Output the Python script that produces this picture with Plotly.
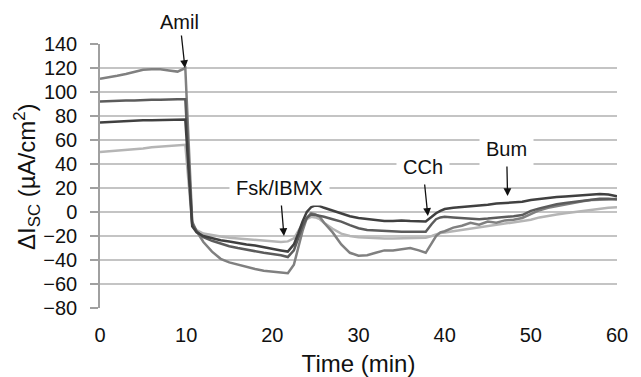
import plotly.graph_objects as go

time_min = [0, 1, 2, 3, 4, 5, 6, 7, 8, 9, 9.9, 10.7, 11.2, 12, 13, 14, 15, 16, 17, 18, 19, 20, 21, 21.8,
            22.5, 23, 23.5, 24, 24.5, 25, 25.5, 26, 27, 28, 29, 30, 31, 32, 33, 34, 35, 36, 37, 37.8,
            38.5, 39, 39.5, 40, 41, 42, 43, 44, 45, 46, 47, 48, 49, 50, 51, 52, 53, 54, 55, 56, 57, 58, 59, 60]

trace_light = [50, 50.5, 51, 51.5, 52, 53, 54, 54.5, 55, 55.5, 56, -10, -15, -18, -19.5, -20.5, -21.5, -22, -22.5, -23, -24, -24.5, -25, -24.5,
               -22, -16, -10, -6, -4, -4.5, -6, -9, -14, -18, -20, -21, -21.5, -22, -22, -22, -22, -22, -21.5, -21.5,
               -20, -18.5, -17.5, -17, -16, -15, -14, -13, -12, -11, -10, -9, -8, -6.5, -4.5, -3, -2, -1, 0, 1, 2, 3, 3.5, 4]

trace_medium = [111, 112, 113.5, 115, 117, 118.5, 119, 119, 118, 117, 120, -8, -16, -25, -33, -39, -42, -44, -46, -47.5, -49, -50, -50.5, -51,
                -44, -30, -16, -5, -1, -2, -4, -9, -17, -27, -34, -36.5, -36, -34, -32, -32, -31, -30, -32, -34,
                -26, -20, -17, -16, -13, -11.5, -9, -10.5, -8, -9, -7, -6.5, -5, -2, 1.5, 3.5, 5, 6.5, 8, 9, 10, 10, 10.5, 11]

trace_dark = [92, 92.5, 92.5, 93, 93, 93.5, 93.5, 93.5, 94, 94, 94, -10, -16, -21, -24, -26.5, -28.5, -30, -31.5, -32.5, -34, -35, -36, -37.5,
              -32, -22, -12, -5, -2, -2.5, -3, -4, -6, -8, -11, -13.5, -15, -15.5, -16, -16, -16.5, -16.5, -16.5, -16.5,
              -10, -6, -4.5, -4, -4.5, -5, -5.5, -6, -5.5, -5, -4.5, -3.5, -2.5, 1, 3, 5, 6.5, 7.5, 8.5, 9.5, 10.5, 11, 11, 10.5]

trace_darkest = [74.5, 75, 75.5, 76, 76, 76.5, 76.5, 76.5, 77, 77, 77, -12, -17, -20, -22, -23.5, -24.5, -26, -27, -28, -29.5, -30.5, -32, -33,
                 -27, -18, -8, 0, 4, 5.5, 5, 3.5, 1, -1.5, -3.5, -5, -6, -7, -7.5, -7.5, -7, -7.5, -8, -8,
                 -4, -1, 1, 2.5, 3.5, 4, 4.5, 5.5, 6, 7, 7.5, 8, 8.5, 10, 11, 12, 12.5, 13, 13.5, 14.5, 15, 15, 14.5, 13]

series = [
    (trace_light, "#b5b5b5"),
    (trace_medium, "#808080"),
    (trace_dark, "#5c5c5c"),
    (trace_darkest, "#404040"),
]

events = ["Amil", "Fsk/IBMX", "CCh", "Bum"]
event_times = [9.86, 21.35, 38.05, 47.3]
event_tips = [120, -20, -3.3, 13.3]
label_dx = [-5, -4, -5, -1]
label_dy = [-46, -48, -49, -47]

FONT = "Liberation Sans, Arial, sans-serif"

fig = go.Figure()
for vals, col in series:
    fig.add_trace(go.Scatter(x=time_min, y=vals, mode="lines",
                             line=dict(color=col, width=2.5), showlegend=False))

for name, t, tip, dx, dy in zip(events, event_times, event_tips, label_dx, label_dy):
    fig.add_annotation(x=t, y=tip, xref="x", yref="y", text=name, showarrow=True,
                       ax=dx, ay=dy, arrowhead=2, arrowsize=1.2, arrowwidth=1.3,
                       arrowcolor="#111111",
                       font=dict(family=FONT, size=20, color="#111111"),
                       bgcolor="white" if name != "Amil" else "rgba(0,0,0,0)",
                       borderpad=6 if name != "Amil" else 2)

fig.add_annotation(x=-0.1412, y=0.5, xref="paper", yref="paper", xanchor="center", yanchor="middle",
                   textangle=-90, showarrow=False,
                   text="ΔI<sub>SC</sub> (µA/cm<sup>2</sup>)",
                   font=dict(family=FONT, size=24, color="#111111"))

fig.update_layout(
    width=641, height=377,
    margin=dict(l=100, r=24, t=44, b=69),
    plot_bgcolor="white", paper_bgcolor="white",
    font=dict(family=FONT, size=20, color="#111111"),
)
fig.update_xaxes(range=[0, 60], dtick=10, showgrid=False, zeroline=False, showline=False,
                 ticks="", ticklabelstandoff=13, automargin=False,
                 tickfont=dict(size=20),
                 title=dict(text="Time (min)", font=dict(size=24), standoff=12))
fig.update_yaxes(range=[-80, 140], dtick=20, showgrid=True, gridcolor="#c4c4c4", gridwidth=1.5,
                 zeroline=False, showline=True, linecolor="#a0a0a0", linewidth=1.5,
                 ticks="outside", ticklen=8, tickcolor="#a0a0a0", tickwidth=1.5,
                 ticklabelstandoff=9, automargin=False,
                 tickfont=dict(size=20))

fig.write_html("out.html")
